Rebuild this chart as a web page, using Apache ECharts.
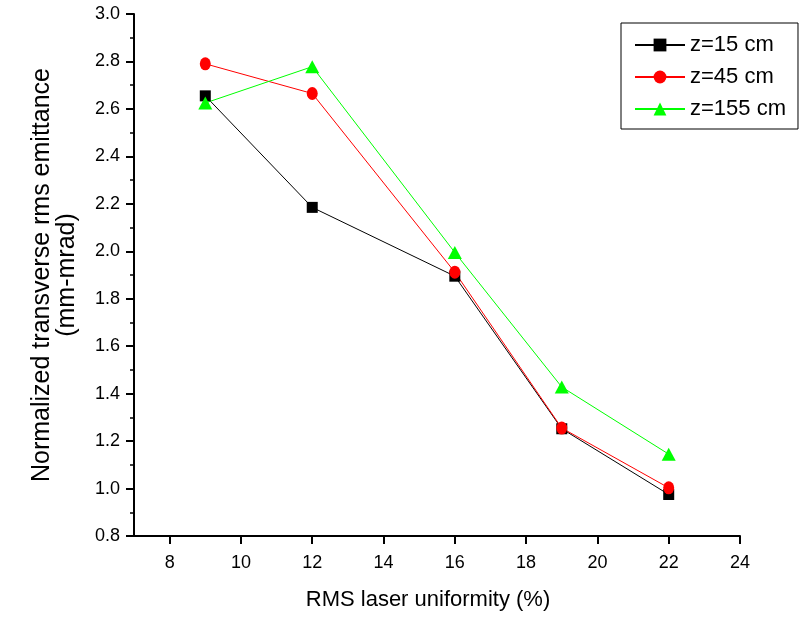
<!DOCTYPE html>
<html>
<head>
<meta charset="utf-8">
<script src="https://cdn.jsdelivr.net/npm/echarts@6/dist/echarts.min.js"></script>
<style>html,body{margin:0;padding:0;background:#fff}#c{width:801px;height:618px}</style>
</head>
<body>
<div id="c"></div>
<script>
const xValues = [9, 12, 16, 19, 22];
const z15 = [2.655, 2.185, 1.895, 1.252, 0.975];
const z45 = [2.79, 2.665, 1.912, 1.255, 1.003];
const z155 = [2.625, 2.778, 1.995, 1.428, 1.145];
const seriesNames = ['z=15 cm', 'z=45 cm', 'z=155 cm'];
const xTickLabels = [8, 10, 12, 14, 16, 18, 20, 22, 24];
const xTitle = 'RMS laser uniformity (%)';
const yTitle = 'Normalized transverse rms emittance\n(mm-mrad)';

const font = 'Liberation Sans, Arial, sans-serif';
function pairs(ys){ return xValues.map((x,i)=>[x, ys[i]]); }

const chart = echarts.init(document.getElementById('c'), null, {renderer:'canvas'});
chart.setOption({
  animation:false,
  backgroundColor:'#fff',
  grid:{left:134, right:61, top:14, bottom:82},
  legend:{
    orient:'vertical', left:621, top:23,
    borderColor:'#000', borderWidth:1,
    padding:[11,12,9,13],
    itemWidth:50, itemHeight:16, itemGap:10,
    textStyle:{fontFamily:font, fontSize:22, lineHeight:22, color:'#000'},
    data:seriesNames
  },
  xAxis:{
    type:'value', min:7, max:24, interval:2,
    name:xTitle, nameLocation:'middle', nameGap:53,
    nameTextStyle:{fontFamily:font, fontSize:22, color:'#000', padding:[0,18,0,0]},
    axisLine:{lineStyle:{color:'#000', width:2}},
    axisTick:{show:true, length:8, lineStyle:{color:'#000', width:2}, customValues:xTickLabels},
    minorTick:{show:true, splitNumber:2, length:4, lineStyle:{color:'#000', width:1.5}},
    axisLabel:{fontFamily:font, fontSize:18, color:'#000', margin:18, customValues:xTickLabels},
    splitLine:{show:false}
  },
  yAxis:{
    type:'value', min:0.8, max:3.0, interval:0.2,
    name:yTitle, nameLocation:'middle', nameGap:54,
    nameTextStyle:{fontFamily:font, fontSize:25, color:'#000', lineHeight:25},
    axisLine:{show:true, lineStyle:{color:'#000', width:2}},
    axisTick:{show:true, length:8, lineStyle:{color:'#000', width:2}},
    minorTick:{show:true, splitNumber:2, length:4, lineStyle:{color:'#000', width:1.5}},
    axisLabel:{fontFamily:font, fontSize:18, color:'#000', margin:14, formatter:v=>v.toFixed(1)},
    splitLine:{show:false}
  },
  series:[
    {name:seriesNames[0], type:'line', data:pairs(z15), symbol:'rect', symbolSize:11,
     itemStyle:{color:'#000'}, lineStyle:{color:'#000', width:1}},
    {name:seriesNames[1], type:'line', data:pairs(z45), symbol:'circle', symbolSize:[11,13],
     itemStyle:{color:'#ff0000'}, lineStyle:{color:'#ff0000', width:1}},
    {name:seriesNames[2], type:'line', data:pairs(z155), symbol:'triangle', symbolSize:[14,13],
     itemStyle:{color:'#00ff00'}, lineStyle:{color:'#00ff00', width:1}}
  ]
});
</script>
</body>
</html>
